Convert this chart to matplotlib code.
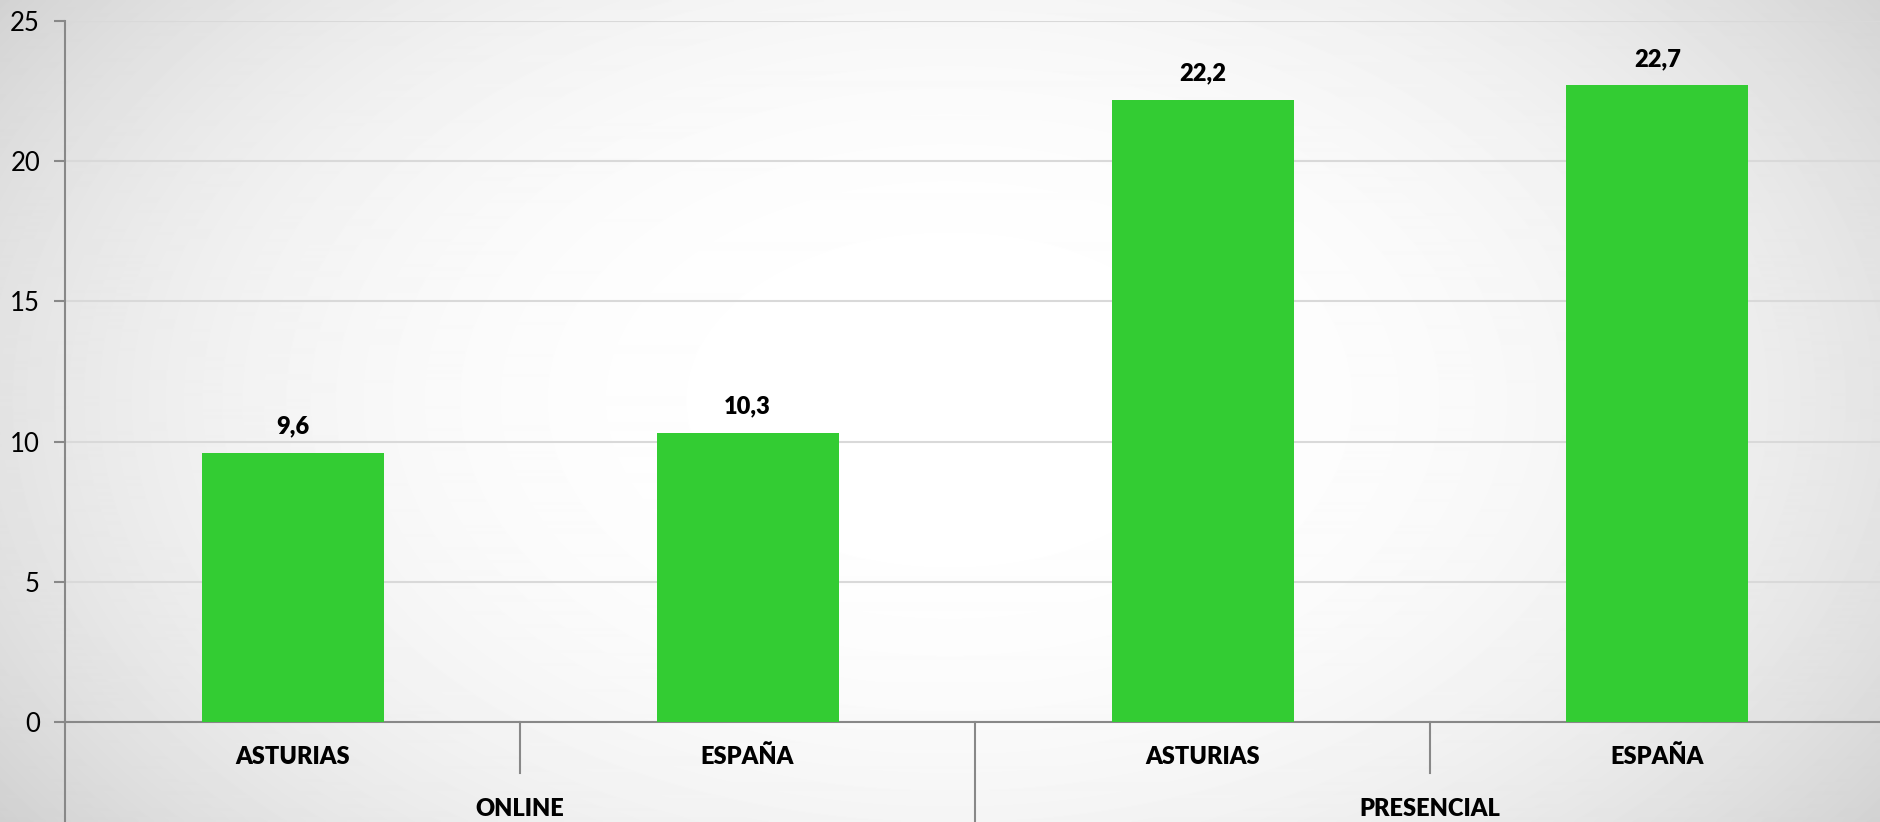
import numpy as np
import matplotlib
matplotlib.use("Agg")
import matplotlib.pyplot as plt
import matplotlib.transforms as mtransforms

# data
groups = ["ONLINE", "PRESENCIAL"]
regions = ["ASTURIAS", "ESPAÑA", "ASTURIAS", "ESPAÑA"]
values = [9.6, 10.3, 22.2, 22.7]
labels = ["9,6", "10,3", "22,2", "22,7"]

plt.rcParams["font.family"] = ["Lato", "DejaVu Sans"]

fig = plt.figure(figsize=(18.8, 8.22), dpi=100)

# radial gradient background
bg = fig.add_axes([0, 0, 1, 1], zorder=-10)
yy, xx = np.mgrid[0:822, 0:1880]
r = np.sqrt(((xx - 950) / 1100.0) ** 2 + ((yy - 400) / 700.0) ** 2)
shade = 1.0 - 0.16 * np.clip(r, 0, 1.2) ** 2.6
bg.imshow(shade, cmap="gray", vmin=0, vmax=1, aspect="auto", interpolation="bilinear")
bg.axis("off")

ax = fig.add_axes([65 / 1880, 1 - 722 / 822, 1 - 65 / 1880, 701 / 822])
ax.patch.set_alpha(0)

x = np.arange(len(values))
ax.bar(x, values, width=0.4, color="#33cc33", zorder=3)
for xi, v, lab in zip(x, values, labels):
    ax.text(xi, v + 0.55, lab, ha="center", va="bottom", fontsize=17,
            fontweight="heavy", color="black")

ax.set_xlim(-0.5, 3.5 - 5 / 455)
ax.set_ylim(0, 25)
ax.set_yticks([0, 5, 10, 15, 20, 25])
ax.yaxis.grid(True, color="#d9d9d9", linewidth=1.5, zorder=0)
ax.tick_params(axis="y", labelsize=18.5, length=8, width=1.5, color="#888888", pad=10)
ax.set_xticks([])

for s in ["top", "right"]:
    ax.spines[s].set_visible(False)
ax.spines["left"].set_color("#888888")
ax.spines["left"].set_linewidth(1.5)
ax.spines["bottom"].set_color("#888888")
ax.spines["bottom"].set_linewidth(1.5)

trans = mtransforms.blended_transform_factory(ax.transData, ax.transAxes)
h = 701.0
# short separators between regions
for xs in [0.5, 2.5]:
    ax.plot([xs, xs], [0, -51 / h], transform=trans, color="#888888", lw=1.5, clip_on=False)
# long separators between groups
for xs in [-0.5, 1.5]:
    ax.plot([xs, xs], [0, -105 / h], transform=trans, color="#888888", lw=1.5, clip_on=False)

for xi, reg in zip(x, regions):
    ax.text(xi, -35 / h, reg, transform=trans, ha="center", va="center",
            fontsize=17, fontweight="heavy")
for i, g in enumerate(groups):
    ax.text(2 * i + 0.5, -87 / h, g, transform=trans, ha="center", va="center",
            fontsize=17, fontweight="heavy")

fig.savefig("out.png", dpi=100)
